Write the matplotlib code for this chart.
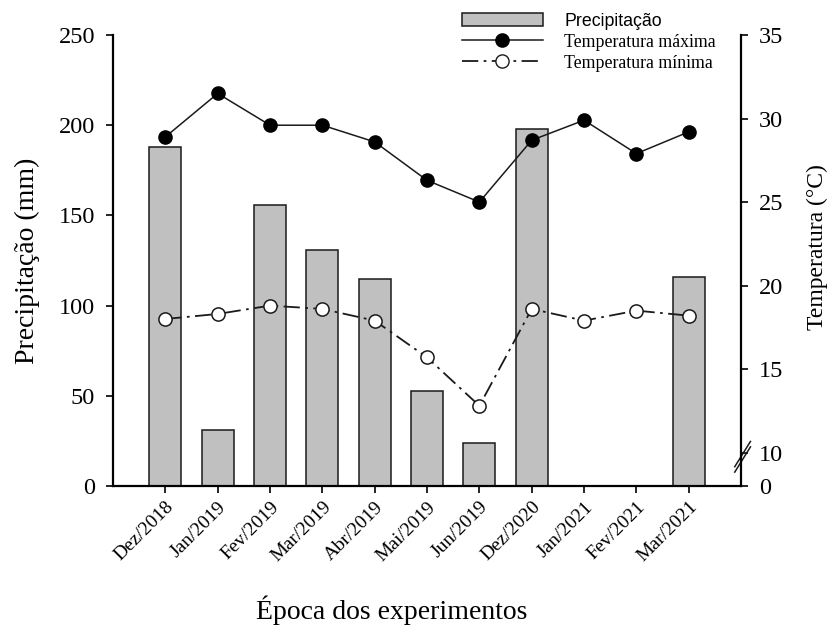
import numpy as np
import matplotlib
matplotlib.use("Agg")
import matplotlib.pyplot as plt
from matplotlib.lines import Line2D
from matplotlib.patches import Patch

plt.rcParams['font.family'] = ['Liberation Serif', 'DejaVu Serif']

meses = ['Dez/2018', 'Jan/2019', 'Fev/2019', 'Mar/2019', 'Abr/2019', 'Mai/2019',
         'Jun/2019', 'Dez/2020', 'Jan/2021', 'Fev/2021', 'Mar/2021']
precipitacao = [188, 31, 156, 131, 115, 52.5, 24, 198, 0, 0, 116]
temp_max = [28.9, 31.5, 29.6, 29.6, 28.6, 26.3, 25.0, 28.7, 29.9, 27.9, 29.2]
temp_min = [18.0, 18.3, 18.8, 18.6, 17.9, 15.7, 12.8, 18.6, 17.9, 18.5, 18.2]

# temperature axis is broken between 0 and 10; the 0 sits a little below 10
t_zero = 8.0
t_ticks = [10, 15, 20, 25, 30, 35]

x = np.arange(len(meses))

fig = plt.figure(figsize=(8.33, 6.32), dpi=100)
ax = fig.add_axes([0.1357, 0.231, 0.7539, 0.7136])
ax2 = ax.twinx()

ax.bar(x, precipitacao, width=0.61, color='#c0c0c0', edgecolor='#1a1a1a',
       linewidth=1.1, zorder=2)
ax2.plot(x, temp_max, color='#1a1a1a', lw=1.1, marker='o', ms=9.5,
         mfc='black', mec='black', zorder=3)
ax2.plot(x, temp_min, color='#1a1a1a', lw=1.3, dashes=(9, 3, 1.5, 3),
         marker='o', ms=9.5, mfc='white', mec='#1a1a1a', mew=1.1, zorder=3)

ax.set_xlim(-1, 11)
ax.set_ylim(0, 250)
ax.set_yticks([0, 50, 100, 150, 200, 250])
ax2.set_ylim(t_zero, 35)
ax2.set_yticks([t_zero] + t_ticks)
ax2.set_yticklabels(['0'] + [str(t) for t in t_ticks])

ax.set_xticks(x)
ax.set_xticklabels(meses, rotation=45, ha='right', rotation_mode='anchor',
                   fontsize=14)

for a in (ax, ax2):
    a.spines['top'].set_visible(False)
    for s in a.spines.values():
        s.set_linewidth(1.6)
    a.tick_params(direction='out', length=5, width=1.2, labelsize=17.5, pad=8)
ax.tick_params(axis='x', labelsize=14, pad=4)
ax2.spines['left'].set_visible(False)
ax2.spines['bottom'].set_visible(False)
ax.spines['right'].set_visible(False)

# double slash marking the break on the right axis
yb = (9.75 - t_zero) / (35 - t_zero)
for dy in (-0.006, 0.006):
    ax2.plot([0.99, 1.015], [yb + dy - 0.028, yb + dy + 0.028],
             transform=ax2.transAxes, color='#1a1a1a', lw=1.1, clip_on=False)

ax.set_ylabel('Precipitação (mm)', fontsize=20)
ax.yaxis.set_label_coords(-0.116, 0.5)
ax2.set_ylabel('Temperatura (°C)', fontsize=17)
ax2.yaxis.set_label_coords(1.105, 0.53)
ax.set_xlabel('Época dos experimentos', fontsize=20)
ax.xaxis.set_label_coords(0.443, -0.242)

handles = [
    Patch(facecolor='#c0c0c0', edgecolor='#1a1a1a', linewidth=1.1),
    Line2D([], [], color='#1a1a1a', lw=1.1, marker='o', ms=9.5, mfc='black', mec='black'),
    Line2D([], [], color='#1a1a1a', lw=1.3, dashes=(9, 3, 1.5, 3), marker='o', ms=9.5,
           mfc='white', mec='#1a1a1a'),
]
leg = fig.legend(handles, ['Precipitação', 'Temperatura máxima', 'Temperatura mínima'],
                 loc='upper left', bbox_to_anchor=(0.546, 0.991), frameon=False,
                 fontsize=12.8, handlelength=4.55, handleheight=0.7, labelspacing=0.22,
                 handletextpad=1.2, borderaxespad=0)
leg.get_texts()[0].set_fontfamily(['Liberation Sans', 'DejaVu Sans'])

fig.savefig('out.png', dpi=100)
